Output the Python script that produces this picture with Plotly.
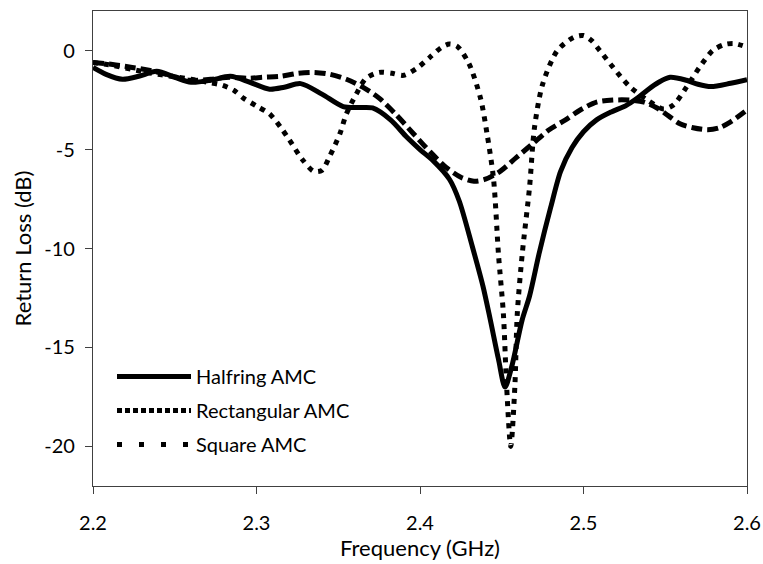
import plotly.graph_objects as go

# ---- data ----
half_f = [2.200, 2.208, 2.218, 2.228, 2.239, 2.250, 2.260, 2.272, 2.284, 2.296,
          2.308, 2.317, 2.327, 2.340, 2.353, 2.362, 2.371, 2.382, 2.392, 2.400,
          2.408, 2.418, 2.424, 2.432, 2.4385, 2.443, 2.448, 2.452, 2.456, 2.4625,
          2.467, 2.473, 2.480, 2.486, 2.493, 2.500, 2.508, 2.517, 2.526, 2.533,
          2.539, 2.546, 2.553, 2.563, 2.570, 2.578, 2.590, 2.600]
half_db = [-0.85, -1.2, -1.45, -1.3, -1.05, -1.35, -1.6, -1.5, -1.3, -1.6,
           -1.95, -1.85, -1.67, -2.2, -2.83, -2.88, -2.9, -3.5, -4.38, -5.0,
           -5.56, -6.5, -7.6, -9.9, -11.9, -13.6, -15.6, -17.0, -16.0, -13.6,
           -12.4, -10.2, -7.9, -6.1, -4.9, -4.1, -3.5, -3.1, -2.78, -2.4,
           -2.0, -1.6, -1.35, -1.5, -1.7, -1.82, -1.65, -1.47]

rect_f = [2.200, 2.212, 2.224, 2.235, 2.247, 2.259, 2.272, 2.284, 2.295, 2.304,
          2.315, 2.325, 2.335, 2.345, 2.355, 2.365, 2.375, 2.385, 2.396, 2.406,
          2.416, 2.425, 2.433, 2.440, 2.449, 2.459, 2.469, 2.479, 2.489, 2.498,
          2.508, 2.518, 2.528, 2.537, 2.545, 2.552, 2.559, 2.567, 2.576, 2.583,
          2.590, 2.600]
rect_db = [-0.6, -0.7, -0.85, -1.0, -1.25, -1.5, -1.45, -1.35, -1.4, -1.35,
           -1.3, -1.15, -1.1, -1.2, -1.45, -1.85, -2.4, -3.2, -4.2, -5.1,
           -5.9, -6.4, -6.6, -6.5, -6.1, -5.4, -4.7, -4.0, -3.5, -3.0,
           -2.6, -2.5, -2.5, -2.6, -2.9, -3.3, -3.7, -3.9, -4.0, -3.9,
           -3.6, -3.0]

sq_f = [2.200, 2.212, 2.224, 2.236, 2.248, 2.260, 2.270, 2.279, 2.286, 2.292,
        2.300, 2.308, 2.315, 2.320, 2.328, 2.335, 2.340, 2.345, 2.351, 2.355,
        2.361, 2.367, 2.375, 2.383, 2.390, 2.398, 2.406, 2.413, 2.418, 2.423,
        2.430, 2.437, 2.441, 2.445, 2.448, 2.451, 2.453, 2.4555, 2.458, 2.4595,
        2.4625, 2.467, 2.470, 2.475, 2.484, 2.494, 2.500, 2.505, 2.510, 2.518,
        2.528, 2.539, 2.549, 2.555, 2.563, 2.571, 2.579, 2.586, 2.592, 2.600]
sq_db = [-0.6, -0.75, -0.95, -1.15, -1.3, -1.45, -1.6, -1.75, -2.0, -2.4,
         -2.8, -3.2, -3.9, -4.5, -5.5, -6.1, -6.05, -5.3, -4.2, -3.2,
         -2.2, -1.4, -1.1, -1.15, -1.25, -0.9, -0.34, 0.15, 0.33, 0.2,
         -0.67, -2.4, -4.2, -6.5, -10.3, -13.3, -17.0, -20.0, -17.0, -13.3,
         -10.3, -6.9, -3.9, -1.7, 0.0, 0.67, 0.76, 0.5, 0.0, -0.84,
         -1.8, -2.5, -2.95, -2.75, -1.85, -0.84, 0.0, 0.3, 0.36, 0.17]

names = ["Halfring AMC", "Rectangular AMC", "Square AMC"]
x_ticks = [2.2, 2.3, 2.4, 2.5, 2.6]
x_tick_text = ["2.2", "2.3", "2.4", "2.5", "2.6"]
y_ticks = [0, -5, -10, -15, -20]
y_tick_text = ["0", "-5", "-10", "-15", "-20"]

FONT = "Lato"
W, H = 763, 564
PL, PR, PT, PB = 93, 747, 11, 486          # plot frame in page pixels
ML, MT, MR, MB = PL, PT, W - PR, H - PB
pw, ph = PR - PL, PB - PT

fig = go.Figure()

# plotted curves
fig.add_trace(go.Scatter(x=half_f, y=half_db, mode="lines", showlegend=False,
                         line=dict(color="black", width=5, shape="spline", smoothing=0.8)))
fig.add_trace(go.Scatter(x=rect_f, y=rect_db, mode="lines", showlegend=False,
                         line=dict(color="black", width=5, dash="11px,5px", shape="spline", smoothing=0.8)))
fig.add_trace(go.Scatter(x=sq_f, y=sq_db, mode="lines", showlegend=False,
                         line=dict(color="black", width=5, dash="5px,6px", shape="spline", smoothing=0.8)))

# legend entries (styles as shown in the reference legend)
legend_dash = ["solid", "5px,3px", "5px,17px"]
for i, (nm, d) in enumerate(zip(names, legend_dash)):
    fig.add_trace(go.Scatter(x=[None], y=[None], mode="lines", name=nm,
                             legendgroup=f"g{i}",
                             line=dict(color="black", width=5, dash=d)))

fig.update_layout(
    width=W, height=H,
    margin=dict(l=ML, r=MR, t=MT, b=MB, autoexpand=False),
    paper_bgcolor="white", plot_bgcolor="white",
    font=dict(family=FONT, size=20, color="black"),
    showlegend=True,
    legend=dict(x=(112 - PL) / pw, y=(PB - 357) / ph, xanchor="left", yanchor="top",
                bgcolor="rgba(0,0,0,0)", borderwidth=0,
                font=dict(family=FONT, size=20, color="black"),
                itemwidth=74, tracegroupgap=5),
    xaxis=dict(range=[2.2, 2.6], tickvals=x_ticks, ticktext=x_tick_text,
               showline=True, linecolor="#404040", linewidth=1.3, mirror=True,
               ticks="outside", ticklen=7, tickcolor="#404040", tickwidth=1.3,
               showgrid=False, zeroline=False, automargin=False,
               tickfont=dict(family=FONT, size=20, color="black"),
               ticklabelstandoff=12, ticklabeloverflow="allow",
               title=dict(text="Frequency (GHz)", font=dict(family=FONT, size=22, color="black"),
                          standoff=2)),
    yaxis=dict(range=[-22, 2], tickvals=y_ticks, ticktext=y_tick_text,
               showline=True, linecolor="#404040", linewidth=1.3, mirror=True,
               ticks="outside", ticklen=7, tickcolor="#404040", tickwidth=1.3,
               showgrid=False, zeroline=False, automargin=False,
               tickfont=dict(family=FONT, size=20, color="black"),
               ticklabelstandoff=6,
               title=dict(text="Return Loss (dB)", font=dict(family=FONT, size=22, color="black"),
                          standoff=6)),
)

fig.write_html("out.html", config={"displayModeBar": False},
               post_script="document.body.style.margin='0';document.body.style.overflow='hidden';")
